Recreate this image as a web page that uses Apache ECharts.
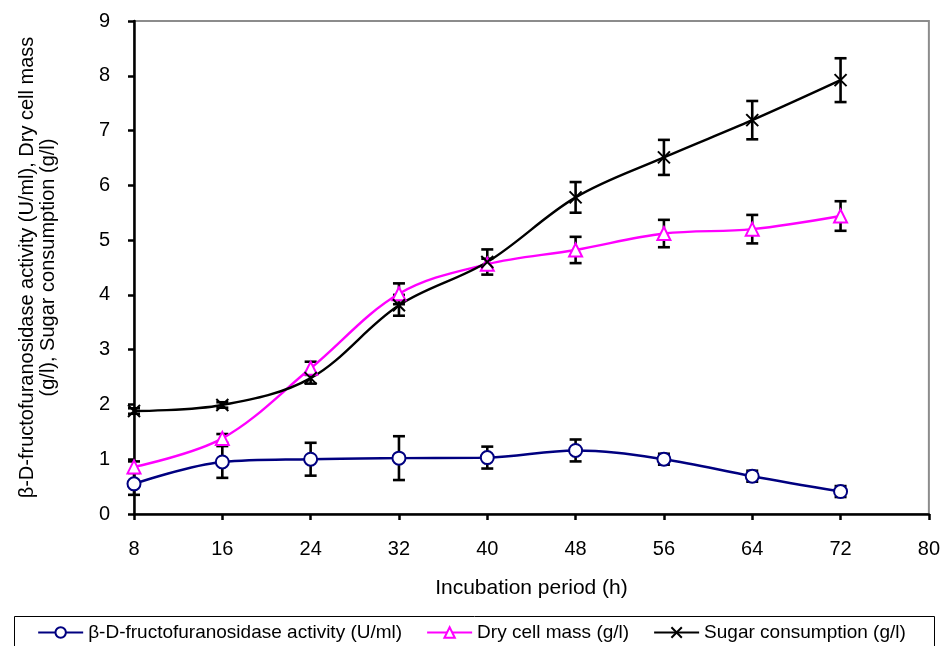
<!DOCTYPE html>
<html><head><meta charset="utf-8">
<script src="https://cdn.jsdelivr.net/npm/echarts@6/dist/echarts.min.js"></script>
<style>html,body{margin:0;padding:0;background:#fff}#c{width:943px;height:646px}</style>
</head><body><div id="c"></div>
<script>
var hours = [8, 16, 24, 32, 40, 48, 56, 64, 72];
var enzyme = [0.55, 0.95, 1.00, 1.02, 1.03, 1.16, 1.00, 0.69, 0.41];
var enzymeErr = [0.20, 0.29, 0.30, 0.40, 0.20, 0.20, 0.10, 0.10, 0.10];
var dryMass = [0.86, 1.38, 2.66, 4.02, 4.56, 4.82, 5.12, 5.20, 5.44];
var dryMassErr = [0.10, 0.08, 0.12, 0.19, 0.10, 0.24, 0.25, 0.26, 0.27];
var sugar = [1.88, 1.99, 2.48, 3.81, 4.60, 5.78, 6.51, 7.19, 7.92];
var sugarErr = [0.05, 0.05, 0.10, 0.19, 0.23, 0.28, 0.32, 0.35, 0.40];
var names = ['β-D-fructofuranosidase activity (U/ml)', 'Dry cell mass (g/l)', 'Sugar consumption (g/l)'];

function pairs(v){ return hours.map(function(h,i){ return [h, v[i]]; }); }
function errData(v,e){ return hours.map(function(h,i){ return [h, v[i]-e[i], v[i]+e[i]]; }); }
function errSeries(v,e){
  return {
    type:'custom', silent:true, z:1,
    data: errData(v,e),
    encode:{x:0,y:[1,2]},
    renderItem:function(params, api){
      var lo = api.coord([api.value(0), api.value(1)]);
      var hi = api.coord([api.value(0), api.value(2)]);
      var w = 6;
      var st = {stroke:'#000', lineWidth:2.6};
      return {type:'group', children:[
        {type:'line', shape:{x1:lo[0],y1:lo[1],x2:hi[0],y2:hi[1]}, style:st},
        {type:'line', shape:{x1:lo[0]-w,y1:lo[1],x2:lo[0]+w,y2:lo[1]}, style:st},
        {type:'line', shape:{x1:hi[0]-w,y1:hi[1],x2:hi[0]+w,y2:hi[1]}, style:st}
      ]};
    }
  };
}
var font = 'Liberation Sans, Arial, sans-serif';
var chart = echarts.init(document.getElementById('c'), null, {renderer:'canvas'});
chart.setOption({
  animation:false,
  backgroundColor:'#fff',
  textStyle:{fontFamily:font},
  grid:{left:134, right:13, top:21, bottom:132, containLabel:false, show:true, borderColor:'#8c8c8c', borderWidth:2, backgroundColor:'transparent'},
  xAxis:{
    type:'value', min:8, max:80, interval:8,
    name:'Incubation period (h)', nameLocation:'middle', nameGap:64,
    nameTextStyle:{fontSize:21, color:'#000', fontFamily:font},
    axisLine:{lineStyle:{color:'#000', width:2.5}},
    axisTick:{show:true, inside:false, length:6, lineStyle:{color:'#000', width:2.5}},
    axisLabel:{fontSize:20, color:'#000', margin:25, fontFamily:font},
    splitLine:{show:false}
  },
  yAxis:{
    type:'value', min:0, max:9, interval:1,
    name:'β-D-fructofuranosidase activity (U/ml), Dry cell mass\n(g/l), Sugar consumption (g/l)',
    nameLocation:'middle', nameRotate:90, nameGap:75,
    nameTextStyle:{fontSize:20, color:'#000', fontFamily:font, lineHeight:21, align:'center'},
    axisLine:{show:true, lineStyle:{color:'#000', width:2.5}},
    axisTick:{show:true, inside:false, length:6, lineStyle:{color:'#000', width:2.5}},
    axisLabel:{fontSize:20, color:'#000', margin:24, fontFamily:font},
    splitLine:{show:false}
  },
  legend:{
    data:names, top:623, left:'center', padding:0, itemGap:24, itemWidth:45, itemHeight:13,
    textStyle:{fontSize:19, color:'#000', fontFamily:font}
  },
  graphic:[{type:'rect', left:12, top:614, shape:{width:920, height:40}, style:{fill:'none', stroke:'#000', lineWidth:1}}],
  series:[
    errSeries(enzyme, enzymeErr),
    errSeries(dryMass, dryMassErr),
    errSeries(sugar, sugarErr),
    {name:names[0], type:'line', z:3, smooth:0.35, data:pairs(enzyme), symbol:'circle', symbolSize:13,
      lineStyle:{color:'#000080', width:2.4},
      itemStyle:{color:'#fff', borderColor:'#000080', borderWidth:2}},
    {name:names[1], type:'line', z:3, smooth:0.35, data:pairs(dryMass), symbol:'triangle', symbolSize:13,
      lineStyle:{color:'#ff00ff', width:2.4},
      itemStyle:{color:'#fff', borderColor:'#ff00ff', borderWidth:2}},
    {name:names[2], type:'line', z:3, smooth:0.35, data:pairs(sugar), symbol:'path://M0,0L10,10M10,0L0,10', symbolSize:12,
      lineStyle:{color:'#000', width:2.4},
      itemStyle:{color:'#000', borderColor:'#000', borderWidth:2}}
  ]
});
</script></body></html>
